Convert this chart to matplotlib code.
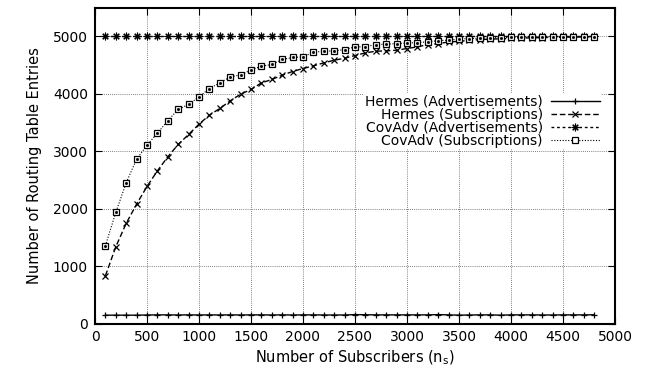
import matplotlib
matplotlib.use("Agg")
import matplotlib.pyplot as plt
import numpy as np

plt.rcParams['font.family'] = ['DejaVu Sans']

subscribers = np.arange(100, 4900, 100)

hermes_adv = [145, 145, 145, 145, 148, 150, 150, 148, 150, 148,
              150, 148, 150, 148, 150, 150, 148, 150, 148, 150,
              150, 148, 148, 148, 155, 152, 150, 150, 150, 150,
              150, 150, 155, 150, 145, 148, 150, 150, 145, 150,
              150, 150, 148, 148, 150, 150, 150, 152]

hermes_sub = [830, 1336, 1743, 2078, 2385, 2657, 2901, 3117, 3290, 3470,
              3626, 3743, 3875, 3991, 4073, 4188, 4247, 4322, 4386, 4438,
              4484, 4536, 4583, 4617, 4664, 4710, 4739, 4745, 4757, 4786,
              4814, 4856, 4870, 4901, 4910, 4930, 4940, 4950, 4955, 4962,
              4968, 4972, 4976, 4980, 4983, 4986, 4988, 4990]

covadv_adv = [5000] * 48

covadv_sub = [1353, 1934, 2449, 2861, 3104, 3313, 3528, 3730, 3812, 3944,
              4090, 4188, 4292, 4327, 4414, 4478, 4508, 4595, 4630, 4640,
              4722, 4739, 4745, 4768, 4814, 4816, 4856, 4860, 4873, 4880,
              4890, 4900, 4925, 4930, 4953, 4958, 4965, 4970, 4975, 4978,
              4982, 4985, 4987, 4989, 4991, 4992, 4993, 4994]

labels = ["Hermes (Advertisements)", "Hermes (Subscriptions)",
          "CovAdv (Advertisements)", "CovAdv (Subscriptions)"]

fig = plt.figure(figsize=(6.49, 3.69), dpi=100)
ax = fig.add_axes([95 / 649, 1 - 323.5 / 369, 520 / 649, 316 / 369])

ax.plot(subscribers, hermes_adv, color='black', lw=1.0, ls='-',
        marker='+', ms=4.5, mew=0.9, label=labels[0])
ax.plot(subscribers, hermes_sub, color='black', lw=1.0, ls=(0, (4, 2)),
        marker='x', ms=4, mew=0.9, label=labels[1])
ax.plot(subscribers, covadv_adv, color='black', lw=1.0, ls=(0, (2, 2)),
        marker=(8, 2, 0), ms=5.5, mew=0.8, label=labels[2])
ax.plot(subscribers, covadv_sub, color='black', lw=0.8, ls=(0, (1, 1.5)),
        marker='s', ms=4, mew=0.9, mfc='white', label=labels[3])
ax.plot(subscribers, covadv_sub, ls='none', marker='s', ms=1.0,
        color='black')

ax.set_xlim(0, 5000)
ax.set_ylim(0, 5500)
ax.set_xticks(np.arange(0, 5001, 500))
ax.set_yticks(np.arange(0, 5001, 1000))
ax.tick_params(direction='in', top=True, right=True, length=5,
               labelsize=10, pad=5)
for s in ax.spines.values():
    s.set_linewidth(1.5)

ax.grid(True, color='0.35', lw=0.6, ls=(0, (1, 1.5)))
ax.set_axisbelow(True)

ax.set_xlabel("Number of Subscribers (n$_\\mathregular{s}$)", fontsize=10.5,
              labelpad=3)
ax.set_ylabel("Number of Routing Table Entries", fontsize=10.5, labelpad=8)

leg = ax.legend(loc='upper right', bbox_to_anchor=(0.973, 0.728),
                markerfirst=False, frameon=True, fancybox=False,
                facecolor='white', edgecolor='none', framealpha=1,
                fontsize=10, labelspacing=-0.08, handlelength=3.5,
                handletextpad=0.6, borderpad=0.1, borderaxespad=0)

fig.savefig("out.png", dpi=100)
